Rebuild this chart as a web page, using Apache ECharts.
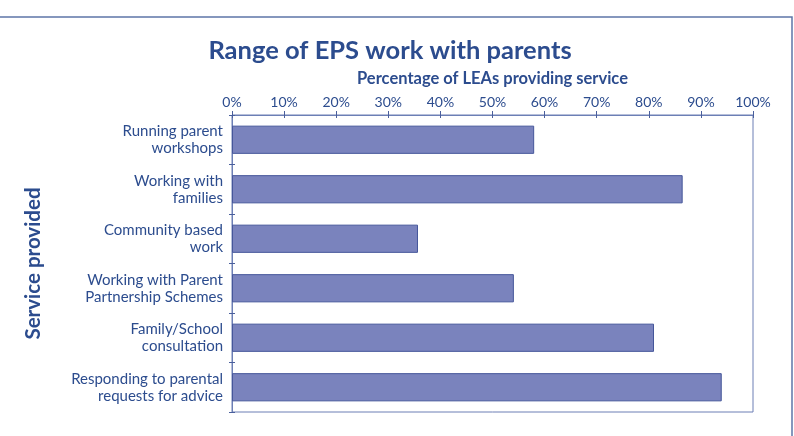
<!DOCTYPE html>
<html>
<head>
<meta charset="utf-8">
<script src="https://cdn.jsdelivr.net/npm/echarts@6/dist/echarts.min.js"></script>
<style>
  html, body { margin: 0; padding: 0; background: #fff; }
  #chart { width: 794px; height: 436px; }
</style>
</head>
<body>
<div id="chart"></div>
<script>
// services, top to bottom
const services = [
  'Running parent\nworkshops',
  'Working with\nfamilies',
  'Community based\nwork',
  'Working with Parent\nPartnership Schemes',
  'Family/School\nconsultation',
  'Responding to parental\nrequests for advice'
];
// % of LEAs providing each service
const percentValues = [58, 86.5, 35.7, 54.1, 81, 94];
const xTicks = [0, 10, 20, 30, 40, 50, 60, 70, 80, 90, 100];

const blue = '#2c4c8e';
const font = 'Lato, "Open Sans", sans-serif';

const chart = echarts.init(document.getElementById('chart'));

const grid = { left: 232, top: 115, width: 521, height: 297, show: true, borderColor: '#6c7fb5', borderWidth: 1 };

const xBase = {
  type: 'value', position: 'top', min: 0, max: 100, interval: 10,
  splitLine: { show: false },
  axisLine: { show: true, lineStyle: { color: '#6c7fb5' } }
};

chart.setOption({
  animation: false,
  textStyle: { fontFamily: font },
  graphic: [{
    type: 'rect', shape: { x: -5, y: 17, width: 797, height: 450 },
    style: { fill: 'none', stroke: '#5d75a8', lineWidth: 1.5 }, silent: true, z: -1
  }],
  title: {
    text: 'Range of EPS work with parents',
    left: 385, top: 33, textAlign: 'center',
    textStyle: { color: blue, fontSize: 25.5, fontWeight: 'bold', fontFamily: font }
  },
  grid: grid,
  xAxis: [
    Object.assign({}, xBase, {
      name: 'Percentage of LEAs providing service',
      nameLocation: 'middle', nameGap: 28,
      nameTextStyle: { color: blue, fontSize: 16.5, fontWeight: 'bold' },
      axisTick: { show: true, length: 4, lineStyle: { color: '#4a5f9c' } },
      axisLabel: { color: blue, fontSize: 14, margin: 6, formatter: v => xTicks.includes(v) ? v + '%' : '' }
    }),
    Object.assign({}, xBase, {
      axisTick: { show: true, inside: true, length: 3, lineStyle: { color: '#4a5f9c' } },
      axisLabel: { show: false }
    })
  ],
  yAxis: [
    {
      type: 'category', data: services, inverse: true,
      name: 'Service provided', nameLocation: 'middle', nameGap: 188, nameRotate: 90,
      nameTextStyle: { color: blue, fontSize: 20.5, fontWeight: 'bold' },
      axisLine: { show: true, lineStyle: { color: '#6c7fb5' } },
      axisTick: { show: true, length: 3, lineStyle: { color: '#4a5f9c' } },
      axisLabel: { color: blue, fontSize: 15, lineHeight: 17, margin: 9, align: 'right' }
    },
    {
      type: 'category', data: services, inverse: true, position: 'left',
      axisLine: { show: false },
      axisTick: { show: true, inside: true, length: 3, lineStyle: { color: '#4a5f9c' } },
      axisLabel: { show: false }
    }
  ],
  series: [{
    type: 'bar', data: percentValues, barWidth: '57%',
    itemStyle: { color: '#7a83bd', borderColor: '#45569a', borderWidth: 1 }
  }]
});
</script>
</body>
</html>
